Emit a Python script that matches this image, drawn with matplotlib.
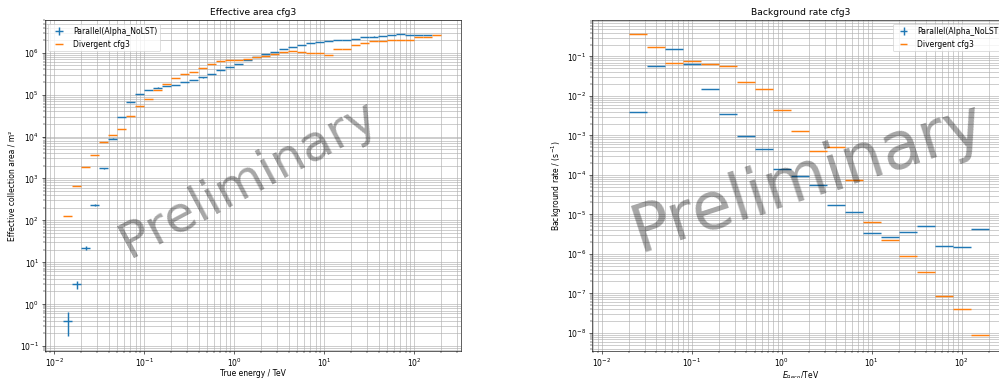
import numpy as np
import matplotlib
matplotlib.use("Agg")
import matplotlib.pyplot as plt
from matplotlib.ticker import LogLocator, NullFormatter

# ---------------- data ----------------
# Effective area: true-energy bin edges, log10(E/TeV)
ea_edges_log = [-1.9, -1.8, -1.7, -1.6, -1.5, -1.4, -1.3, -1.2, -1.1, -1.0,
                -0.9, -0.8, -0.7, -0.6, -0.5, -0.4, -0.3, -0.2, -0.1, 0.0,
                0.1, 0.2, 0.3, 0.4, 0.5, 0.6, 0.7, 0.8, 0.9, 1.0,
                1.1, 1.2, 1.3, 1.4, 1.5, 1.6, 1.7, 1.8, 1.9, 2.0,
                2.1, 2.2, 2.3]
ea_parallel = [0.4, 3.0, 22, 230, 1740, 8900, 29500, 68000, 105000, 129000,
               148000, 160000, 172000, 200000, 227000, 258000, 315000, 385000, 455000, 545000,
               690000, 800000, 960000, 1.05e6, 1.2e6, 1.4e6, 1.55e6, 1.7e6, 1.86e6, 1.93e6,
               2.04e6, 2.04e6, 2.16e6, 2.37e6, 2.45e6, 2.55e6, 2.65e6, 2.8e6, 2.7e6, 2.7e6,
               2.7e6]
ea_parallel_err = [0.23, 0.65, 2.0, 15, 60, 200, 400, 700, 900, 1000,
                   1000, 1000, 1000, 1000, 1000, 1000, 1000, 1000, 1000, 1000,
                   1000, 1000, 1000, 1000, 1000, 1000, 1000, 1000, 1000, 1000,
                   1000, 1000, 1000, 1000, 1000, 1000, 1000, 1000, 1000, 1000,
                   1000]
ea_divergent = [130, 660, 1860, 3700, 7400, 10700, 15100, 31000, 53000, 81000,
                129000, 182000, 250000, 305000, 350000, 440000, 545000, 620000, 680000, 690000,
                730000, 800000, 860000, 960000, 1.05e6, 1.1e6, 1.04e6, 1.0e6, 0.97e6, 0.9e6,
                1.22e6, 1.22e6, 1.55e6, 1.76e6, 1.9e6, 1.9e6, 1.97e6, 1.97e6, 1.97e6, 2.45e6,
                2.45e6, 2.6e6]

# Background rate: reco-energy bin edges, log10(E/TeV)
bg_edges_log = [-1.7, -1.5, -1.3, -1.1, -0.9, -0.7, -0.5, -0.3, -0.1, 0.1,
                0.3, 0.5, 0.7, 0.9, 1.1, 1.3, 1.5, 1.7, 1.9, 2.1, 2.3]
bg_parallel = [0.0039, 0.056, 0.156, 0.064, 0.0146, 0.0035, 0.00098, 0.00045, 1.42e-4, 9.5e-5,
               5.6e-5, 1.7e-5, 1.12e-5, 3.4e-6, 2.6e-6, 3.6e-6, 5.1e-6, 1.6e-6, 1.5e-6, 4.3e-6]
bg_divergent = [0.37, 0.17, 0.069, 0.075, 0.065, 0.056, 0.023, 0.0148, 0.0045, 0.0013,
                4.0e-4, 5.2e-4, 7.4e-5, 6.3e-6, 2.3e-6, 8.6e-7, 3.4e-7, 8.5e-8, 4.0e-8, 8.6e-9]

label_par = "Parallel(Alpha_NoLST)"
label_div = "Divergent cfg3"

# ---------------- figure ----------------
DPI = 55
fig = plt.figure(figsize=(999.3 / DPI, 378.3 / DPI), dpi=DPI)

W, H = 999.0, 378.0
axw = 416.5 / W
axb = (H - 351) / H
axh = 331 / H
ax1 = fig.add_axes([44.5 / W, axb, axw, axh])
ax2 = fig.add_axes([591.7 / W, axb, axw, axh])


def bins(edges_log, n):
    e = 10 ** np.asarray(edges_log, dtype=float)
    lo, hi = e[:n], e[1:n + 1]
    c = np.sqrt(lo * hi)
    return c, np.vstack([c - lo, hi - c])


def style(ax):
    ax.set_xscale("log")
    ax.set_yscale("log")
    for axis in (ax.xaxis, ax.yaxis):
        axis.set_major_locator(LogLocator(base=10, numticks=30))
        axis.set_minor_locator(LogLocator(base=10, subs=np.arange(2, 10), numticks=30))
        axis.set_minor_formatter(NullFormatter())
    ax.grid(True, which="both")
    ax.set_axisbelow(True)
    ax.set_xlim(10 ** -2.11, 10 ** 2.52)


LW = 1.9

# Effective area
c, xe = bins(ea_edges_log, len(ea_parallel))
ax1.errorbar(c, ea_parallel, xerr=xe, yerr=ea_parallel_err, fmt="none",
             color="C0", elinewidth=LW, label=label_par)
c, xe = bins(ea_edges_log, len(ea_divergent))
ax1.errorbar(c, ea_divergent, xerr=xe, fmt="none", color="C1", elinewidth=LW,
             label=label_div)
style(ax1)
ax1.set_ylim(10 ** -1.12, 10 ** 6.79)
ax1.set_title("Effective area cfg3")
ax1.set_xlabel("True energy / TeV", labelpad=0.5)
ax1.set_ylabel("Effective collection area / m²")
ax1.legend(loc="upper left")
ax1.text(0.49, 0.52, "Preliminary", transform=ax1.transAxes, fontsize=66,
         rotation=28, ha="center", va="center", color="k", alpha=0.35)

# Background rate
c, xe = bins(bg_edges_log, len(bg_parallel))
ax2.errorbar(c, bg_parallel, xerr=xe, yerr=np.zeros(len(bg_parallel)), fmt="none",
             color="C0", elinewidth=LW, label=label_par)
c, xe = bins(bg_edges_log, len(bg_divergent))
ax2.errorbar(c, bg_divergent, xerr=xe, fmt="none", color="C1", elinewidth=LW,
             label=label_div)
style(ax2)
ax2.set_ylim(10 ** -8.46, 10 ** -0.07)
ax2.set_title("Background rate cfg3")
ax2.set_xlabel(r"$E_\mathrm{Reco}$/TeV", labelpad=0.5)
ax2.set_ylabel("Background rate / (s$^{-1}$)")
ax2.legend(loc="upper right")
ax2.text(0.52, 0.525, "Preliminary", transform=ax2.transAxes, fontsize=85,
         rotation=18, ha="center", va="center", color="k", alpha=0.35)

fig.savefig("out.png", dpi=DPI)
